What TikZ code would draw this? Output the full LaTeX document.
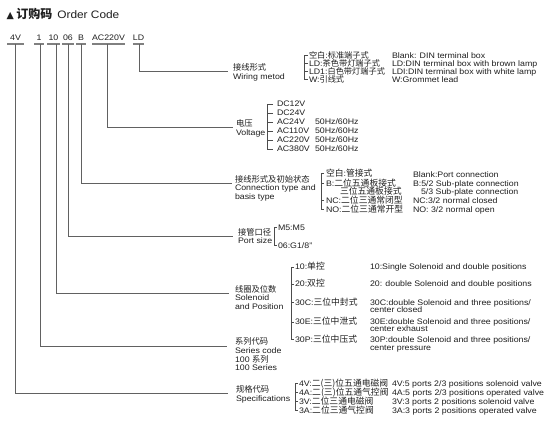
\documentclass[tikz,border=0pt]{standalone}
\usepackage{fontspec}
\setmainfont{Liberation Sans}[FakeStretch=1.1]
\newfontfamily\cjkfam{Noto Sans CJK SC}
\newfontfamily\symfam{DejaVu Sans}
\newcommand\zhs[1]{{\cjkfam\fontsize{8.3}{9}\selectfont #1}}
\newcommand\zhi[1]{{\cjkfam\fontsize{8.8}{9}\selectfont #1}}
\newcommand\zhw[1]{{\cjkfam\fontsize{8.2}{9}\selectfont #1}}
\newcommand\lblk[2][8.7pt]{\vtop{\baselineskip=#1\lineskiplimit=-20pt\lineskip=0pt #2}}
\tikzset{
  txt/.style={anchor=base west, inner sep=0pt, outer sep=0pt},
  codebox/.style={anchor=base, inner xsep=0pt, inner ysep=3pt, outer sep=0pt},
  conn/.style={draw=black!62, line width=0.9pt},
  uline/.style={draw=black!50, line width=1.2pt},
  brk/.style={draw=black!70, line width=0.7pt},
}
\begin{document}
\begin{tikzpicture}[x=1pt,y=-1pt,font=\fontsize{8}{9}\selectfont,text=black!88]
\fill[white] (0,0) rectangle (550,422);
\useasboundingbox (0,0) rectangle (550,422);

% title
\node[txt] (title) at (6.5,19) {{\symfam\fontsize{9.5}{9.5}\selectfont ▲}\hspace{2.5pt}{\cjkfam\bfseries\fontsize{12}{12}\selectfont 订购码}\hspace{5pt}{\fontsize{10.8}{12}\selectfont Order Code}};

% code row
\node[codebox, minimum width=17pt] (c4V) at (15.5,41) {4V};
\node[codebox, minimum width=10pt] (c1) at (39,41) {1};
\node[codebox, minimum width=13pt] (c10) at (53.5,41) {10};
\node[codebox, minimum width=12pt] (c06) at (68,41) {06};
\node[codebox, minimum width=10pt] (cB) at (81,41) {B};
\node[codebox, minimum width=33pt] (cAC) at (108.5,41) {AC220V};
\node[codebox, minimum width=11pt] (cLD) at (138.5,41) {LD};
\foreach \n in {c4V,c1,c10,c06,cB,cAC,cLD}
  \draw[uline] (\n.south west) -- (\n.south east);

% labels
\node[txt] (lWire) at (233,70.7) {\lblk{\hbox{\zhs{接线形式}}\hbox{Wiring metod}}};
\node[txt] (lVolt) at (236,126.7) {\lblk{\hbox{\zhs{电压}}\hbox{Voltage}}};
\node[txt] (lConn) at (235,182.3) {\lblk[8.5pt]{\hbox{\zhs{接线形式及初始状态}}\hbox{Connection type and}\hbox{basis type}}};
\node[txt] (lPort) at (238,235.7) {\lblk[8pt]{\hbox{\zhs{接管口径}}\hbox{Port size}}};
\node[txt] (lSol) at (235,292.3) {\lblk{\hbox{\zhs{线圈及位数}}\hbox{Solenoid}\hbox{and Position}}};
\node[txt] (lSer) at (235,345) {\lblk[8.6pt]{\hbox{\zhs{系列代码}}\hbox{Series code}\hbox{100 \zhs{系列}}\hbox{100 Series}}};
\node[txt] (lSpec) at (236,392.3) {\lblk[9.5pt]{\hbox{\zhs{规格代码}}\hbox{Specifications}}};

% connectors
\draw[conn] ([xshift=0.5pt]cLD.south) |- ([xshift=-5pt,yshift=-1pt]lWire.base west);
\draw[conn] ([xshift=-1.5pt]cAC.south) |- ([xshift=-3pt,yshift=-1pt]lVolt.base west);
\draw[conn] (cB.south) |- ([xshift=-3pt,yshift=-1pt]lConn.base west);
\draw[conn] (c06.south) |- ([xshift=-5pt,yshift=-1pt]lPort.base west);
\draw[conn] ([xshift=2.5pt]c10.south) |- ([xshift=-6pt,yshift=-1pt]lSol.base west);
\draw[conn] ([xshift=1pt]c1.south) |- ([xshift=-8pt,yshift=-1pt]lSer.base west);
\draw[conn] ([xshift=-0.5pt]c4V.south) |- ([xshift=-8pt,yshift=-1pt]lSpec.base west);

% wiring items
\node[txt] (w1) at (309,58.5) {\zhw{空白}:\zhw{标准端子式}};
\node[txt] (w2) at (309,66.5) {LD:\zhw{茶色带灯端子式}};
\node[txt] (w3) at (309,74.5) {LD1:\zhw{白色带灯端子式}};
\node[txt] (w4) at (309,82.5) {W:\zhw{引线式}};
\node[txt] (we1) at (392,58.5) {Blank: DIN terminal box};
\node[txt] (we2) at (392,66.5) {LD:DIN terminal box with brown lamp};
\node[txt] (we3) at (392,74.5) {LDI:DIN terminal box with white lamp};
\node[txt] (we4) at (392,82.5) {W:Grommet lead};
\draw[brk] ([xshift=-1pt,yshift=3pt]w1.base west) -| ([xshift=-5pt,yshift=3pt]w4.base west) -- ([xshift=-1pt,yshift=3pt]w4.base west);
\foreach \n in {w2,w3} \draw[brk] ([xshift=-1pt,yshift=3pt]\n.base west) -- ++(-4,0);

% voltage items
\node[txt] (v1) at (277,107) {DC12V};
\node[txt] (v2) at (277,116) {DC24V};
\node[txt] (v3) at (277,125) {AC24V};
\node[txt] (v4) at (277,134) {AC110V};
\node[txt] (v5) at (277,143) {AC220V};
\node[txt] (v6) at (277,152) {AC380V};
\node[txt] (h3) at (315,125) {50Hz/60Hz};
\node[txt] (h4) at (315,134) {50Hz/60Hz};
\node[txt] (h5) at (315,143) {50Hz/60Hz};
\node[txt] (h6) at (315,152) {50Hz/60Hz};
\draw[brk] ([xshift=-4pt,yshift=3pt]v1.base west) -| ([xshift=-10pt,yshift=3pt]v6.base west) -- ([xshift=-4pt,yshift=3pt]v6.base west);
\foreach \n in {v2,v3,v4,v5} \draw[brk] ([xshift=-4pt,yshift=3pt]\n.base west) -- ++(-6,0);

% connection items
\node[txt] (k1) at (326,176.3) {\zhi{空白}:\zhi{管接式}};
\node[txt] (k2) at (326,186.3) {B:\zhi{二位五通板接式}};
\node[txt] (k3) at (340,194.9) {\zhi{三位五通板接式}};
\node[txt] (k4) at (326,203.4) {NC:\zhi{二位三通常闭型}};
\node[txt] (k5) at (326,212.3) {NO:\zhi{二位三通常开型}};
\node[txt] (ke1) at (413,178) {Blank:Port connection};
\node[txt] (ke2) at (413,187) {B:5/2 Sub-plate connection};
\node[txt] (ke3) at (421,195) {5/3 Sub-plate connection};
\node[txt] (ke4) at (413,204) {NC:3/2 normal closed};
\node[txt] (ke5) at (413,213) {NO: 3/2 normal open};
\draw[brk] ([xshift=-2pt,yshift=3pt]k1.base west) -| ([xshift=-5pt,yshift=3pt]k5.base west) -- ([xshift=-2pt,yshift=3pt]k5.base west);
\foreach \n in {k2,k4} \draw[brk] ([xshift=-2pt,yshift=3pt]\n.base west) -- ++(-3,0);

% port items
\node[txt] (p1) at (278,230.5) {M5:M5};
\node[txt] (p2) at (278,248.5) {06:G1/8"};
\draw[brk] ([xshift=-1pt,yshift=3pt]p1.base west) -| ([xshift=-4pt,yshift=3pt]p2.base west) -- ([xshift=-1pt,yshift=3pt]p2.base west);

% solenoid items
\node[txt] (s1) at (295,270) {10:\zhi{单控}};
\node[txt] (s2) at (295,287) {20:\zhi{双控}};
\node[txt] (s3) at (295,305.7) {30C:\zhi{三位中封式}};
\node[txt] (s4) at (295,325) {30E:\zhi{三位中泄式}};
\node[txt] (s5) at (295,342.3) {30P:\zhi{三位中压式}};
\node[txt] (se1) at (370,270) {10:Single Solenoid and double positions};
\node[txt] (se2) at (370,287) {20: double Solenoid and double positions};
\node[txt] (se3) at (370,305.7) {30C:double Solenoid and three positions/};
\node[txt] (se3b) at (370,313) {center closed};
\node[txt] (se4) at (370,325) {30E:double Solenoid and three positions/};
\node[txt] (se4b) at (370,331.7) {center exhaust};
\node[txt] (se5) at (370,342.3) {30P:double Solenoid and three positions/};
\node[txt] (se5b) at (370,350.3) {center pressure};
\draw[brk] ([xshift=-1pt,yshift=3pt]s1.base west) -| ([xshift=-4pt,yshift=3pt]s5.base west) -- ([xshift=-1pt,yshift=3pt]s5.base west);
\foreach \n in {s2,s3,s4} \draw[brk] ([xshift=-1pt,yshift=3pt]\n.base west) -- ++(-3,0);

% specification items
\node[txt] (g1) at (299,386.3) {4V:\zhi{二(三)位五通电磁阀}};
\node[txt] (g2) at (299,395.5) {4A:\zhi{二(三)位五通气控阀}};
\node[txt] (g3) at (299,404.4) {3V:\zhi{二位三通电磁阀}};
\node[txt] (g4) at (299,413.2) {3A:\zhi{二位三通气控阀}};
\node[txt] (ge1) at (392,386.3) {4V:5 ports 2/3 positions solenoid valve};
\node[txt] (ge2) at (392,395.5) {4A:5 ports 2/3 positions operated valve};
\node[txt] (ge3) at (392,404.4) {3V:3 ports 2 positions solenoid valve};
\node[txt] (ge4) at (392,413.2) {3A:3 ports 2 positions operated valve};
\draw[brk] ([xshift=-1pt,yshift=3pt]g1.base west) -| ([xshift=-4pt,yshift=3pt]g4.base west) -- ([xshift=-1pt,yshift=3pt]g4.base west);
\foreach \n in {g2,g3} \draw[brk] ([xshift=-1pt,yshift=3pt]\n.base west) -- ++(-3,0);
\end{tikzpicture}
\end{document}
